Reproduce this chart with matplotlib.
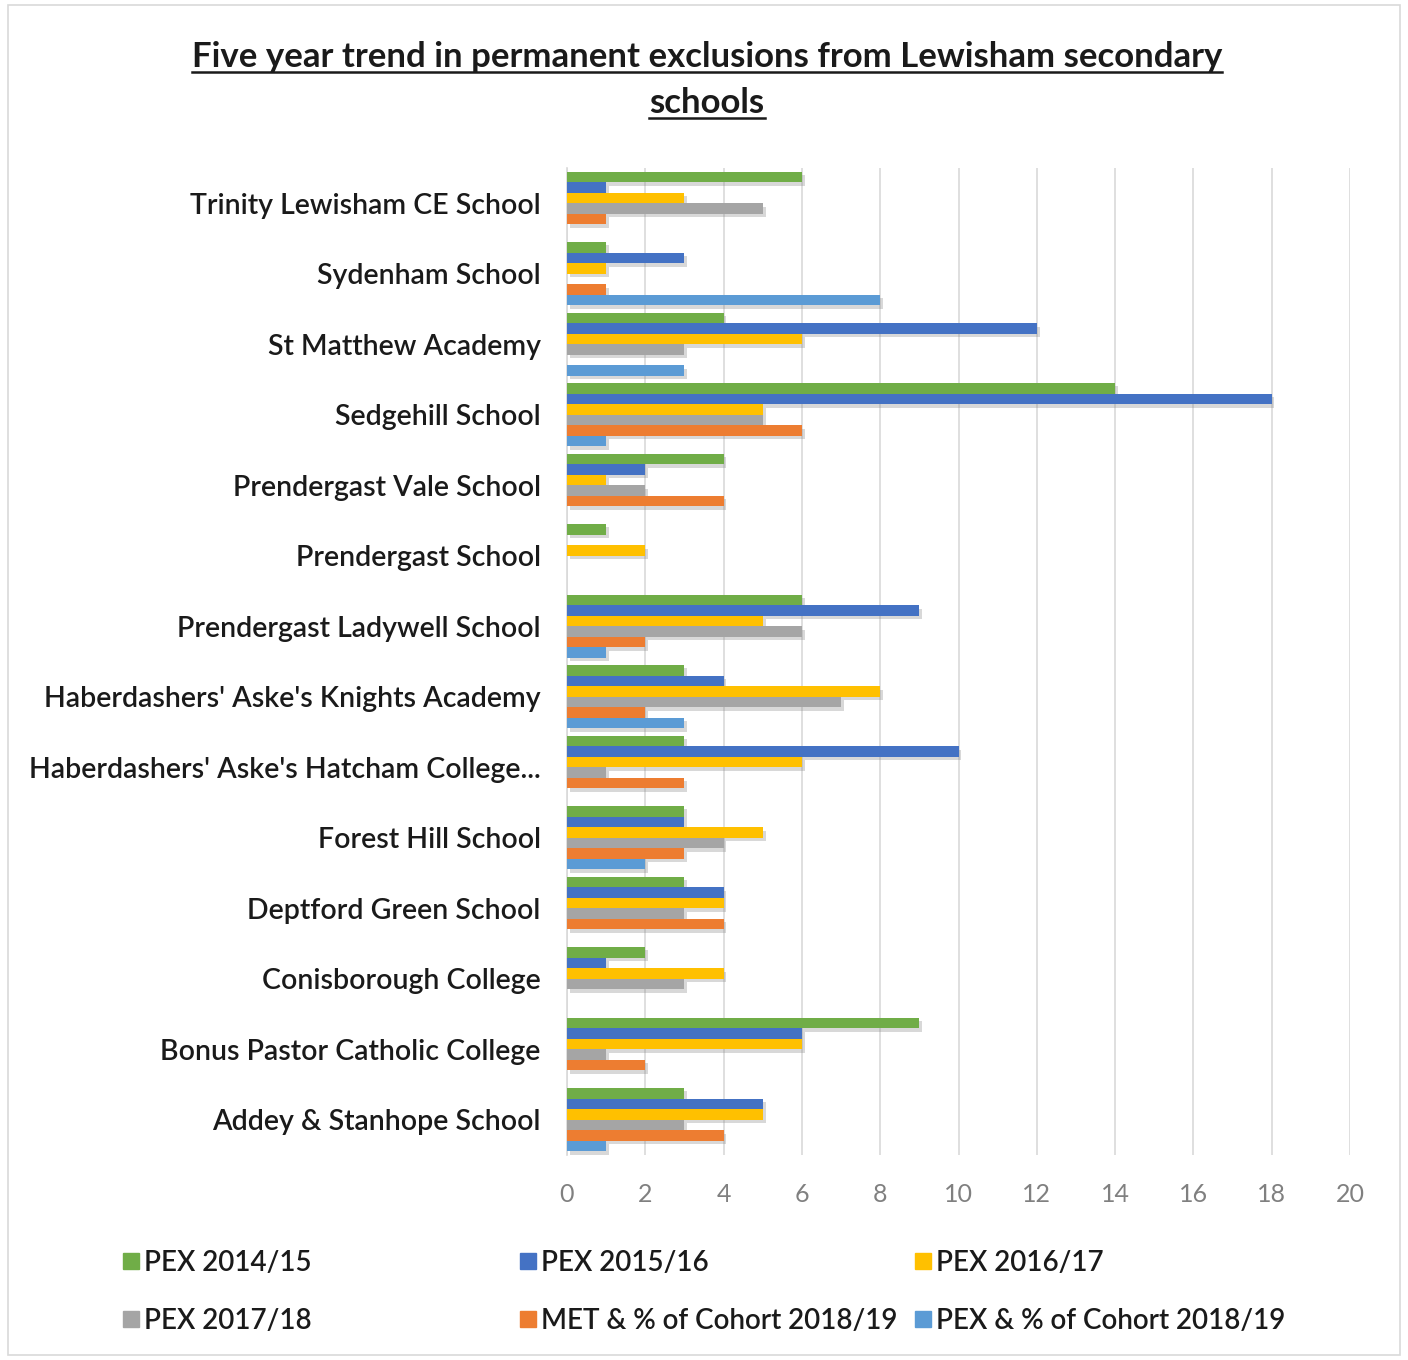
import matplotlib
matplotlib.use("Agg")
import matplotlib.pyplot as plt
import matplotlib.patheffects as pe
from matplotlib.lines import Line2D
from matplotlib.patches import Rectangle
import numpy as np

plt.rcParams['font.family'] = ['Lato', 'DejaVu Sans']

schools = [
    "Trinity Lewisham CE School",
    "Sydenham School",
    "St Matthew Academy",
    "Sedgehill School",
    "Prendergast Vale School",
    "Prendergast School",
    "Prendergast Ladywell School",
    "Haberdashers' Aske's Knights Academy",
    "Haberdashers' Aske's Hatcham College...",
    "Forest Hill School",
    "Deptford Green School",
    "Conisborough College",
    "Bonus Pastor Catholic College",
    "Addey & Stanhope School",
]
series_names = ["PEX 2014/15", "PEX 2015/16", "PEX 2016/17", "PEX 2017/18",
                "MET & % of Cohort 2018/19", "PEX & % of Cohort 2018/19"]
pex_1415 = [6, 1, 4, 14, 4, 1, 6, 3, 3, 3, 3, 2, 9, 3]
pex_1516 = [1, 3, 12, 18, 2, 0, 9, 4, 10, 3, 4, 1, 6, 5]
pex_1617 = [3, 1, 6, 5, 1, 2, 5, 8, 6, 5, 4, 4, 6, 5]
pex_1718 = [5, 0, 3, 5, 2, 0, 6, 7, 1, 4, 3, 3, 1, 3]
met_1819 = [1, 1, 0, 6, 4, 0, 2, 2, 3, 3, 4, 0, 2, 4]
pex_1819 = [0, 8, 3, 1, 0, 0, 1, 3, 0, 2, 0, 0, 0, 1]
series = [pex_1415, pex_1516, pex_1617, pex_1718, met_1819, pex_1819]
colors = ["#70AD47", "#4472C4", "#FFC000", "#A5A5A5", "#ED7D31", "#5B9BD5"]
xticks = [0, 2, 4, 6, 8, 10, 12, 14, 16, 18, 20]

W, H = 1408, 1360
fig = plt.figure(figsize=(W / 100, H / 100), dpi=100)

# outer border
fig.patches.append(Rectangle((8 / W, 5 / H), 1392 / W, 1350 / H, transform=fig.transFigure,
                             fill=False, edgecolor="#D9D9D9", linewidth=1.2))

ax = fig.add_axes([567 / W, 205 / H, 783 / W, 987 / H])
n = len(schools)
ypos = np.arange(n)[::-1]  # Trinity at top
bh = 0.15
shadow = [pe.SimplePatchShadow(offset=(2, -2.5), alpha=0.3, shadow_rgbFace="#7f7f7f"), pe.Normal()]
for i, (vals, c) in enumerate(zip(series, colors)):
    y = ypos + (2.5 - i) * bh
    bars = ax.barh(y, vals, height=bh, color=c, label=series_names[i], zorder=3)
    for b in bars:
        if b.get_width() > 0:
            b.set_path_effects(shadow)

ax.set_xlim(0, 20)
ax.set_ylim(-0.5, n - 0.5)
ax.set_xticks(xticks)
ax.set_xticklabels([str(t) for t in xticks], fontsize=18, color="#808080")
ax.set_yticks(ypos)
ax.set_yticklabels(schools, fontsize=20.5, color="#1a1a1a", fontweight="semibold")
ax.tick_params(axis='both', length=0)
ax.tick_params(axis='x', pad=20)
ax.tick_params(axis='y', pad=19)
ax.grid(axis='x', color="#D9D9D9", linewidth=1.2, zorder=0)
ax.set_axisbelow(True)
for s in ["top", "right", "bottom"]:
    ax.spines[s].set_visible(False)
ax.spines["left"].set_color("#D9D9D9")
ax.spines["left"].set_linewidth(1.2)

# title with underline
t1 = fig.text(707 / W, 1 - 57 / H, "Five year trend in permanent exclusions from Lewisham secondary",
              ha="center", va="center", fontsize=25, fontweight="bold", color="#1a1a1a")
t2 = fig.text(707 / W, 1 - 103 / H, "schools",
              ha="center", va="center", fontsize=25, fontweight="bold", color="#1a1a1a")
fig.canvas.draw()
r = fig.canvas.get_renderer()
for t in (t1, t2):
    bb = t.get_window_extent(renderer=r)
    yline = bb.y0 + 1
    fig.add_artist(Line2D([bb.x0 / W, bb.x1 / W], [yline / H, yline / H],
                          transform=fig.transFigure, color="#1a1a1a", linewidth=1.8))

# legend: three columns placed individually
handles = [Line2D([], [], marker='s', linestyle='none', markersize=11,
                  markerfacecolor=c, markeredgecolor=c) for c in colors]
col_x = [123, 520, 915]
for k, x0 in enumerate(col_x):
    idx = [k, k + 3]
    leg = fig.legend([handles[j] for j in idx], [series_names[j] for j in idx],
                     loc="center left", bbox_to_anchor=(x0 / W, 1 - 1292 / H),
                     frameon=False, fontsize=20, handlelength=0.6, handletextpad=0.15,
                     labelspacing=1.15, borderaxespad=0, borderpad=0)
    for txt in leg.get_texts():
        txt.set_fontweight("semibold")
        txt.set_color("#1a1a1a")

fig.savefig("out.png", dpi=100)
